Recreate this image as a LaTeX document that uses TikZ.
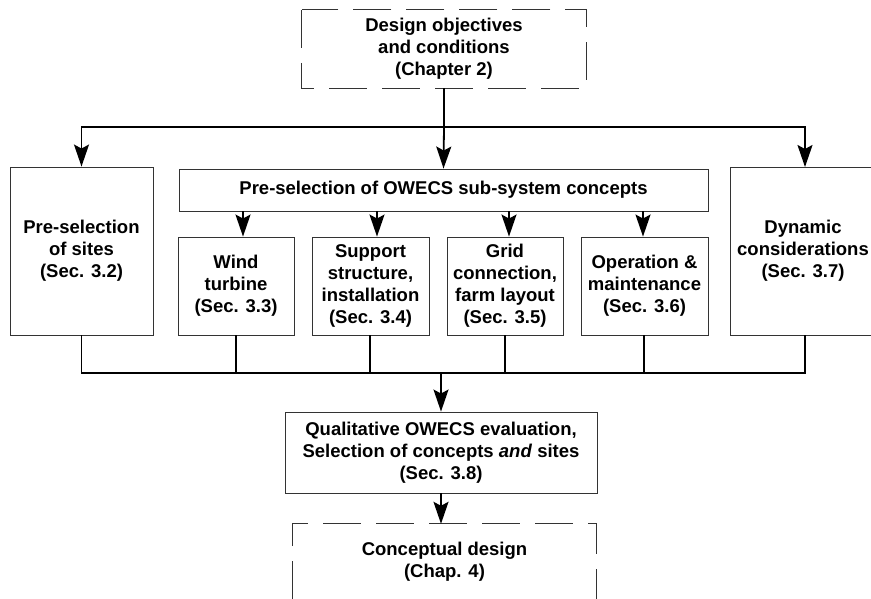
\documentclass[tikz,border=0pt]{standalone}
\usepackage{fontspec}
\setmainfont{Liberation Sans}
\usetikzlibrary{arrows.meta}
\tikzset{
  txt/.style={align=center, inner sep=0pt, font=\fontsize{18.5}{22}\selectfont\bfseries},
  box/.style={txt, draw=black!80, line width=0.9pt},
  dbox/.style={draw=black!80, line width=0.9pt, dash pattern=on 38pt off 15pt},
  conn/.style={line width=1.8pt, black},
  arr/.style={conn, -{Stealth[length=22pt,width=15pt,inset=4pt]}}
}
\begin{document}
\begin{tikzpicture}[x=1pt,y=-1pt]
\useasboundingbox (0,0) rectangle (871,599);
% top dashed box
\node[txt, minimum width=284, minimum height=78] (top) at (444,49) {Design objectives\\and conditions\\(Chapter 2)};
\draw[dbox] (top.north west) rectangle (top.south east);
% second row
\node[box, minimum width=529, minimum height=42] (owecs) at (443.5,190) {Pre-selection of OWECS sub-system concepts};
\node[box, minimum width=143, minimum height=168] (sites) at (81.5,251) {Pre-selection\\of sites\\(Sec. 3.2)};
\node[box, minimum width=116, minimum height=98] (wind) at (236,286) {Wind\\turbine\\(Sec. 3.3)};
\node[box, minimum width=117, minimum height=98] (support) at (370.5,286) {Support\\structure,\\installation\\(Sec. 3.4)};
\node[box, minimum width=116, minimum height=98] (grid) at (505,286) {Grid\\connection,\\farm layout\\(Sec. 3.5)};
\node[box, minimum width=127, minimum height=98] (op) at (644.5,286) {Operation \&\\maintenance\\(Sec. 3.6)};
\node[txt, minimum width=146, minimum height=168] (dyn) at (803,251) {Dynamic\\considerations\\(Sec. 3.7)};
\draw[draw=black!80, line width=0.9pt] (871,167) -- (730,167) -- (730,335) -- (871,335);
% lower boxes
\node[box, minimum width=312, minimum height=81] (qual) at (441,452.5) {Qualitative OWECS evaluation,\\Selection of concepts \textit{and} sites\\(Sec. 3.8)};
\node[txt, minimum width=303, minimum height=75] (concept) at (444.5,561.5) {Conceptual design\\(Chap. 4)};
\draw[dbox] (concept.south west) -- (concept.north west) -- (concept.north east) -- (concept.south east);
% coordinates
\coordinate (split) at (444,127);
\coordinate (dyntop) at (805,167);
\coordinate (dynbot) at (805,335);
\coordinate (rbend) at (805,373);
\coordinate (join) at (441,373);
% connectors from top
\draw[conn] (top.south) -- (split);
\draw[arr] (split) -- (owecs.north);
\draw[arr] (split) -| (sites.north);
\draw[arr] (split) -| (dyntop);
% arrows into sub-boxes
\draw[arr] ([xshift=7pt]wind.north |- owecs.south) -- ([xshift=7pt]wind.north);
\draw[arr] ([xshift=6.5pt]support.north |- owecs.south) -- ([xshift=6.5pt]support.north);
\draw[arr] ([xshift=4pt]grid.north |- owecs.south) -- ([xshift=4pt]grid.north);
\draw[arr] ([xshift=-1.5pt]op.north |- owecs.south) -- ([xshift=-1.5pt]op.north);
% collecting lines
\draw[conn] (sites.south) |- (rbend) -- (dynbot);
\draw[conn] (wind.south) -- (wind.south |- rbend);
\draw[conn] ([xshift=-0.5pt]support.south) -- ([xshift=-0.5pt]support.south |- rbend);
\draw[conn] (grid.south) -- (grid.south |- rbend);
\draw[conn] ([xshift=-0.5pt]op.south) -- ([xshift=-0.5pt]op.south |- rbend);
\draw[arr] (join) -- (qual.north);
\draw[arr] (qual.south) -- (qual.south |- concept.north);
\end{tikzpicture}
\end{document}
